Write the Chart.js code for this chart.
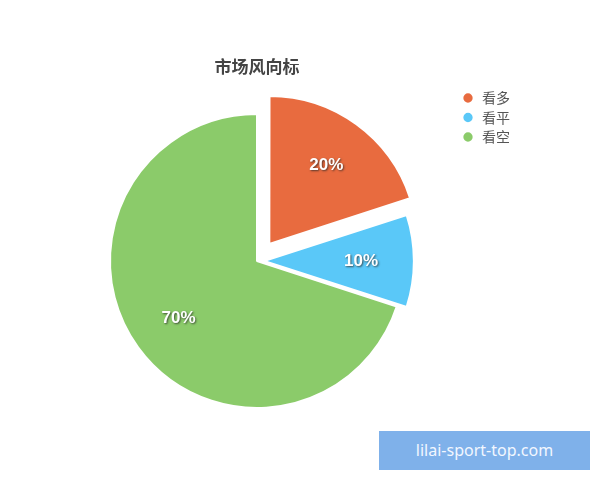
<!DOCTYPE html>
<html>
<head>
<meta charset="utf-8">
<script src="https://cdn.jsdelivr.net/npm/chart.js@4"></script>
<style>
    body { margin: 0; background: #fff; }
    #wrap { position: relative; width: 600px; height: 480px; }
    .mark {
        position: absolute; left: 379px; top: 431px; width: 211px; height: 39px;
        background: #7fb1ea; color: #f2f7ff; font: 16px "Noto Sans", sans-serif;
        line-height: 39px; text-align: center;
    }
</style>
</head>
<body>
<div id="wrap">
    <canvas id="pie-chart" width="600" height="480"></canvas>
    <div class="mark">lilai-sport-top.com</div>
</div>
<script>
const pieCanvas = document.getElementById("pie-chart");

// DATA

const labels = ["看多", "看平", "看空"];
const shares = [20, 10, 70];
const sliceColors = ['#e86b3f', '#5ac8f8', '#8bcb6a'];
// chart.js moves an arc by offset / 4
const sliceOffsets = [84, 28, 0];

// percent labels drawn on each slice

const pctLabels = {
    id: 'pctLabels',
    afterDatasetsDraw(chart) {
        const ctx = chart.ctx;
        const meta = chart.getDatasetMeta(0);
        ctx.save();
        ctx.font = 'bold 17px "Liberation Sans", Arial, sans-serif';
        ctx.fillStyle = '#fff';
        ctx.textAlign = 'center';
        ctx.textBaseline = 'middle';
        ctx.shadowColor = 'rgba(40, 40, 40, 0.75)';
        ctx.shadowOffsetX = 1;
        ctx.shadowOffsetY = 1;
        ctx.shadowBlur = 2;
        meta.data.forEach((arc, i) => {
            const p = arc.getProps(['x', 'y', 'startAngle', 'endAngle', 'outerRadius'], true);
            const mid = (p.startAngle + p.endAngle) / 2;
            const d = (arc.options.offset || 0) / 4 + p.outerRadius * 0.66;
            ctx.fillText(shares[i] + '%', p.x + Math.cos(mid) * d, p.y + Math.sin(mid) * d);
        });
        ctx.restore();
    }
};

// PIE CHART

let pieData = {
    labels: labels,
    datasets: [{
        data: shares,
        backgroundColor: sliceColors,
        borderColor: '#fff',
        borderWidth: 2,
        offset: sliceOffsets,
        hoverOffset: 0
    }]
};

let pieOptions = {
    responsive: false,
    animation: false,
    radius: 147,
    layout: {
        padding: { top: 0, left: 58.5, right: 80, bottom: 60 }
    },
    plugins: {
        title: {
            display: true,
            text: '市场风向标',
            fullSize: false,
            color: '#444',
            font: { size: 17, weight: 'bold', family: '"Noto Sans CJK SC", sans-serif' },
            padding: { top: 56, bottom: 25.6 }
        },
        legend: {
            position: 'right',
            align: 'start',
            title: {
                display: true,
                text: '',
                font: { size: 12 },
                padding: { top: 0, bottom: 71.1 }
            },
            labels: {
                usePointStyle: true,
                pointStyle: 'circle',
                boxWidth: 14,
                boxHeight: 8,
                padding: 5.5,
                color: '#555',
                font: { size: 14, family: '"Noto Sans CJK SC", sans-serif' }
            }
        },
        tooltip: { enabled: false }
    }
};

let pieChart = new Chart(pieCanvas, {
    type: 'pie',
    data: pieData,
    options: pieOptions,
    plugins: [pctLabels]
});
</script>
</body>
</html>
